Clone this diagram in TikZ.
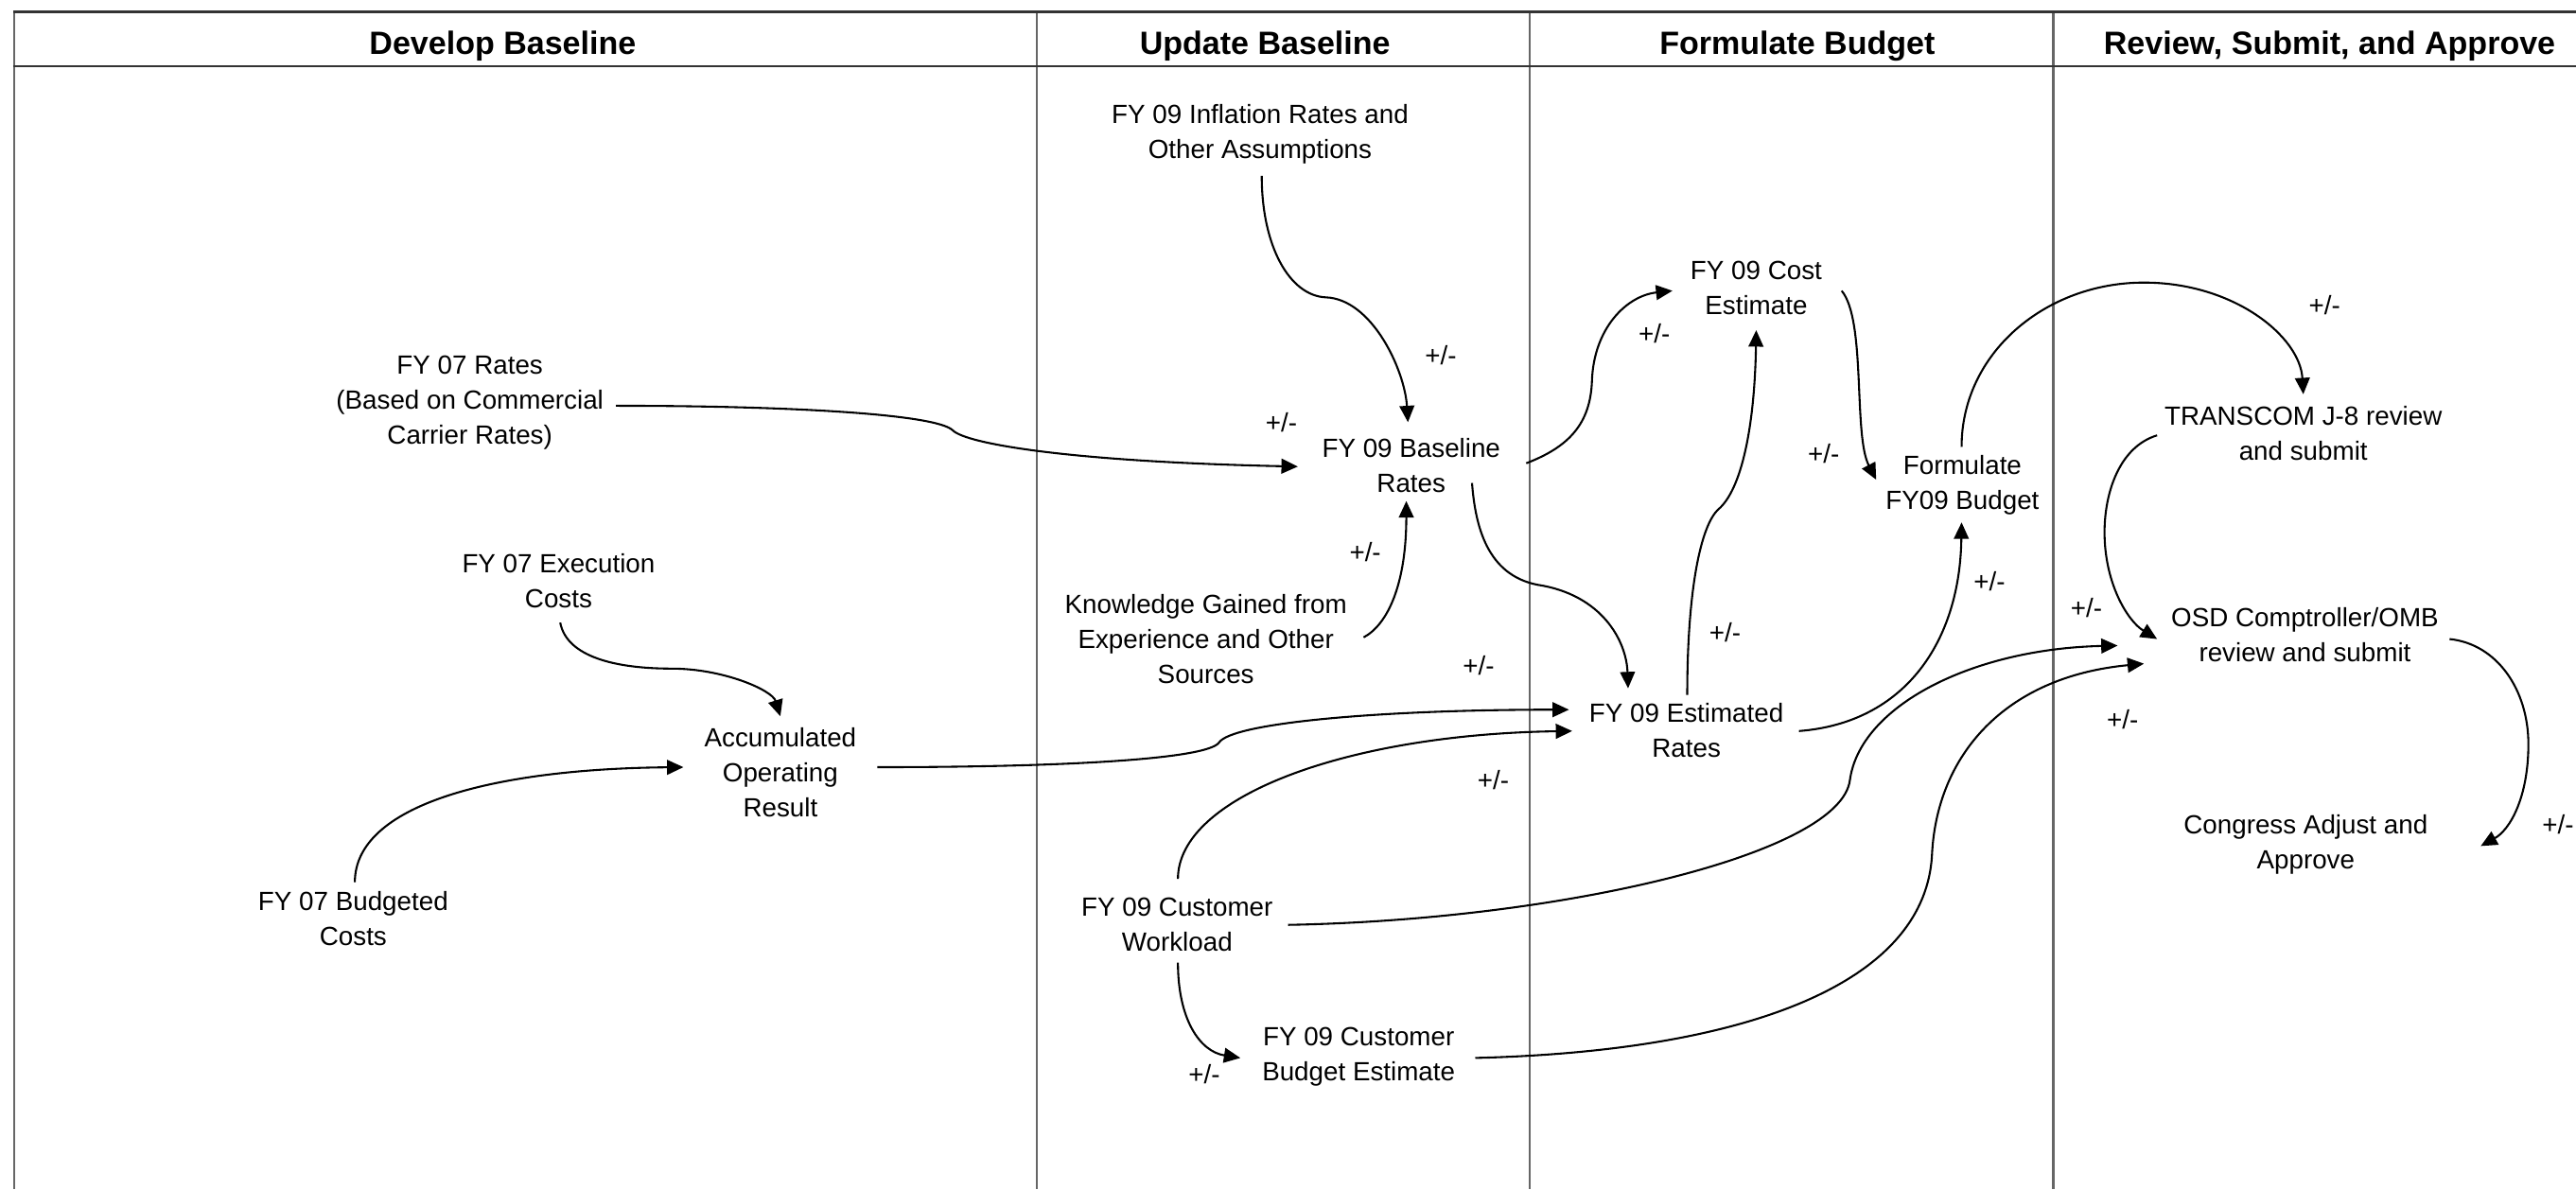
\documentclass[tikz,border=0pt]{standalone}
\usepackage{fontspec}
\setmainfont{Liberation Sans}
\usetikzlibrary{arrows.meta,calc}
\begin{document}
\begin{tikzpicture}[x=1pt,y=-1pt,
  lbl/.style={font=\fontsize{16}{21.3}\selectfont, align=center, inner sep=0pt},
  head/.style={font=\fontsize{19.6}{24}\selectfont\bfseries, inner sep=0pt, anchor=base},
  sign/.style={font=\fontsize{16}{19}\selectfont, inner sep=0pt},
  flow/.style={line width=1.2pt, -{Triangle[length=10pt,width=9pt]}},
  rule/.style={line width=1.6pt, black!80},
  lane/.style={line width=1.5pt, black!60}]
\useasboundingbox (0,0) rectangle (1568,724);
\fill[white] (0,0) rectangle (1568,724);

% swim-lane frame
\draw[lane] (8.6,7.3) -- (8.6,724);
\draw[lane] (631,7.3) -- (631,724);
\draw[lane] (931,7.3) -- (931,724);
\draw[lane] (1250,7.3) -- (1250,724);
\draw[rule] (8,7.3) -- (1568,7.3);
\draw[rule] (8,40.3) -- (1568,40.3);

% lane titles
\node[head] (h1) at (306,33) {Develop Baseline};
\node[head] (h2) at (770,33) {Update Baseline};
\node[head] (h3) at (1094,33) {Formulate Budget};
\node[head] (h4) at (1418,33) {Review, Submit, and Approve};

% quantities
\node[lbl] (r07)   at (286,245)     {FY 07 Rates\\(Based on Commercial\\Carrier Rates)};
\node[lbl] (ex07)  at (340,353.5)   {FY 07 Execution\\Costs};
\node[lbl] (acc)   at (475,470)     {Accumulated\\Operating\\Result};
\node[lbl] (bud07) at (215,559)     {FY 07 Budgeted\\Costs};
\node[lbl] (inf)   at (767,81.5)    {FY 09 Inflation Rates and\\Other Assumptions};
\node[lbl] (bas)   at (859,283.5)   {FY 09 Baseline\\Rates};
\node[lbl] (know)  at (734,389)     {Knowledge Gained from\\Experience and Other\\Sources};
\node[lbl] (wl)    at (716.5,563)   {FY 09 Customer\\Workload};
\node[lbl] (cbe)   at (827,643.5)   {FY 09 Customer\\Budget Estimate};
\node[lbl] (cost)  at (1069,175.5)  {FY 09 Cost\\Estimate};
\node[lbl] (est)   at (1026.5,444.5){FY 09 Estimated\\Rates};
\node[lbl] (form)  at (1194.5,295.5){Formulate\\FY09 Budget};
\node[lbl] (tc)    at (1402,263.5)  {TRANSCOM J-8 review\\and submit};
\node[lbl] (osd)   at (1403,386.5)  {OSD Comptroller/OMB\\review and submit};
\node[lbl] (cong)  at (1403.5,514)  {Congress Adjust and\\Approve};

% influences
\draw[flow] ($(r07)+(89,2)$) .. controls (480,247) and (570,252) .. (580,262)
  .. controls (588,270) and (650,281) .. ($(bas)+(-69,0.5)$);
\draw[flow] ($(inf)+(1,25.5)$) .. controls (768,150) and (785,180) .. (807,181)
  .. controls (835,182) and (855,225) .. ($(bas)+(-2,-26.5)$);
\draw[flow] ($(know)+(96,-1)$) .. controls (845,380) and (856,355) .. ($(bas)+(-3,21.5)$);
\draw[flow] ($(bas)+(70,-1.5)$) .. controls (955,272) and (968,258) .. (969,232)
  .. controls (970,200) and (990,180) .. ($(cost)+(-51,1.5)$);
\draw[flow] ($(bas)+(37,10.5)$) .. controls (898,320) and (905,350) .. (936,356)
  .. controls (975,362) and (990,390) .. ($(est)+(-35.5,-25.5)$);
\draw[flow] ($(est)+(0.5,-21.5)$) .. controls (1027,360) and (1035,320) .. (1046,310)
  .. controls (1060,298) and (1068,260) .. ($(cost)+(0,25.5)$);
\draw[flow] ($(cost)+(52,1.5)$) .. controls (1136,195) and (1128,265) .. ($(form)+(-52.5,-3.5)$);
\draw[flow] ($(est)+(68.5,0.5)$) .. controls (1160,440) and (1193,390) .. ($(form)+(-0.5,22.5)$);
\draw[flow] ($(form)+(-0.5,-23.5)$) .. controls (1194,215) and (1245,172) .. (1305,172)
  .. controls (1360,172) and (1400,205) .. ($(tc)+(0,-23.5)$);
\draw[flow] ($(tc)+(-89,1.5)$) .. controls (1290,272) and (1281,300) .. (1281,324)
  .. controls (1281,355) and (1295,378) .. ($(osd)+(-90,2.5)$);
\draw[flow] ($(wl)+(67.5,0)$) .. controls (950,560) and (1120,520) .. (1126,475)
  .. controls (1132,430) and (1200,395) .. ($(osd)+(-114,6.5)$);
\draw[flow] ($(cbe)+(71,0.5)$) .. controls (1060,640) and (1172,600) .. (1176,520)
  .. controls (1179,460) and (1220,412) .. ($(osd)+(-98,17.5)$);
\draw[flow] ($(osd)+(88,2.5)$) .. controls (1520,392) and (1539,420) .. (1539,453)
  .. controls (1539,485) and (1528,505) .. ($(cong)+(106.5,1)$);
\draw[flow] ($(ex07)+(1,25.5)$) .. controls (345,400) and (375,407) .. (409,407)
  .. controls (440,407) and (470,420) .. ($(acc)+(0,-34)$);
\draw[flow] ($(bud07)+(1,-22)$) .. controls (216,490) and (300,468) .. ($(acc)+(-59,-3)$);
\draw[flow] ($(acc)+(59,-3)$) .. controls (650,467) and (735,462) .. (742,452)
  .. controls (750,440) and (840,432) .. ($(est)+(-71.5,-12.5)$);
\draw[flow] ($(wl)+(0.5,-28)$) .. controls (717,485) and (820,447) .. ($(est)+(-69.5,0.5)$);
\draw[flow] ($(wl)+(0.5,23)$) .. controls (717,620) and (730,640) .. ($(cbe)+(-72,0.5)$);

% polarity marks
\node[sign] (s1)  at (780,257)  {+/-};
\node[sign] (s2)  at (877,216)  {+/-};
\node[sign] (s3)  at (831,336)  {+/-};
\node[sign] (s4)  at (1007,203) {+/-};
\node[sign] (s5)  at (1050,385) {+/-};
\node[sign] (s6)  at (1110,276) {+/-};
\node[sign] (s7)  at (1211,354) {+/-};
\node[sign] (s8)  at (1415,186) {+/-};
\node[sign] (s9)  at (1270,370) {+/-};
\node[sign] (s10) at (1292,438) {+/-};
\node[sign] (s11) at (1557,502) {+/-};
\node[sign] (s12) at (900,405)  {+/-};
\node[sign] (s13) at (909,475)  {+/-};
\node[sign] (s14) at (733,654)  {+/-};
\end{tikzpicture}
\end{document}
